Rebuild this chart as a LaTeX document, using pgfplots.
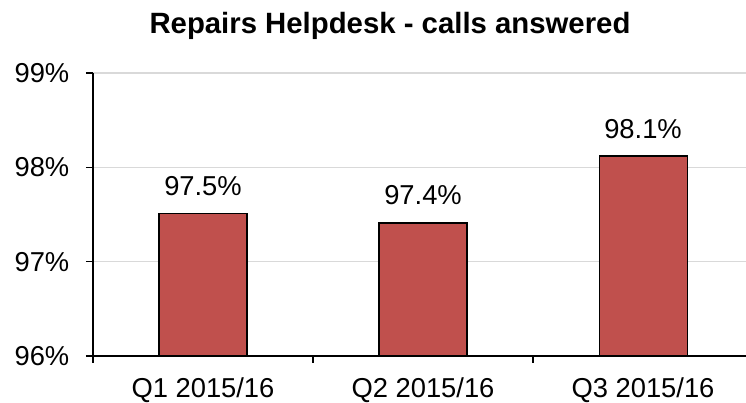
\documentclass[border=0pt]{standalone}
\usepackage{pgfplots}
\pgfplotsset{compat=1.18}
\usepackage{fontspec}
\setmainfont{Liberation Sans}
\definecolor{barred}{HTML}{C0504D}
\definecolor{gridgray}{HTML}{D9D9D9}
\begin{document}
\begin{tikzpicture}
\begin{axis}[
  name=ax,
  at={(0,0)}, anchor=south west,
  scale only axis,
  width=489.75pt, height=212.25pt,
  xmin=-0.5, xmax=2.468,
  ymin=96, ymax=99,
  axis x line*=bottom, axis y line*=left,
  axis line style={line width=1.1pt, black},
  ytick={96,97,98,99},
  yticklabels={96\%,97\%,98\%,99\%},
  ymajorgrids,
  grid style={gridgray, line width=0.9pt},
  tick align=outside,
  major tick length=5.25pt,
  ytick style={black, line width=1.1pt},
  xtick={0,1,2},
  xticklabels={Q1 2015/16, Q2 2015/16, Q3 2015/16},
  xtick style={draw=none},
  extra x ticks={-0.5,0.5,1.5},
  extra x tick labels={},
  extra x tick style={grid=none, xtick style={draw=black, line width=1.1pt}},
  tick label style={font=\fontsize{20.5}{24}\selectfont},
  yticklabel style={anchor=east, xshift=-9pt},
  xticklabel style={anchor=base, yshift=-25.5pt},
  ybar,
  bar width=66pt,
  nodes near coords={\pgfmathprintnumber[fixed,precision=1,fixed zerofill]{\pgfplotspointmeta}\%},
  every node near coord/.style={font=\fontsize{20.5}{24}\selectfont, anchor=base, yshift=13.5pt, black},
  /pgf/number format/assume math mode=true,
]
\addplot[fill=barred, draw=black, line width=0.8pt] coordinates {(0,97.51) (1,97.41) (2,98.12)};
\end{axis}
\node[font=\fontsize{22}{26}\selectfont\bfseries, anchor=base] at ([shift={(222.75pt,241.5pt)}]ax.south west) {Repairs Helpdesk - calls answered};
\pgfresetboundingbox
\path ([shift={(-69.75pt,-35.25pt)}]ax.south west) rectangle ([shift={(489.75pt,267pt)}]ax.south west);
\end{tikzpicture}
\end{document}
